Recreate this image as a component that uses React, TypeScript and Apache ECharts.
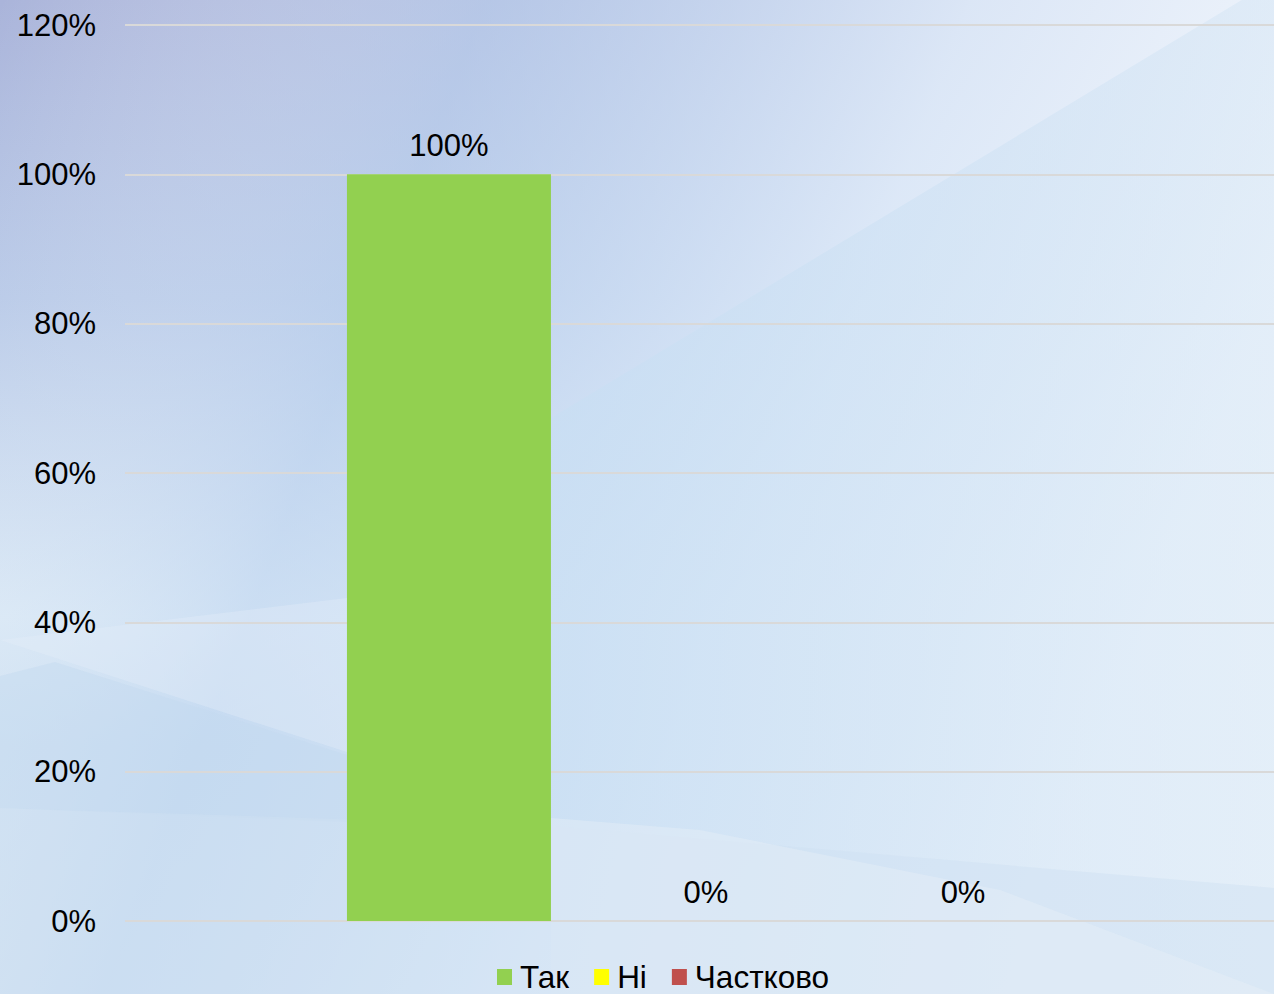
import React, { useEffect, useRef } from "react";
import * as echarts from "echarts";

const categories = ["Питання"];
const seriesNames = ["Так", "Ні", "Частково"];
const seriesValues = [[100], [0], [0]];
const seriesColors = ["#92d050", "#ffff00", "#c0504d"];
const yTicks = { min: 0, max: 120, interval: 20 };

export default function App() {
  const ref = useRef<HTMLDivElement>(null);
  useEffect(() => {
    if (!ref.current) return;
    const chart = echarts.init(ref.current, null, { renderer: "svg" });
    const font = "Liberation Sans, Arial, sans-serif";
    const bg = (points: number[][], fill: any, z = -19) => ({
      type: "polygon",
      z,
      silent: true,
      shape: { points },
      style: { fill },
    });
    const option = {
      animation: false,
      graphic: [
        {
          type: "rect",
          z: -21,
          silent: true,
          shape: { x: 0, y: 0, width: 1274, height: 994 },
          style: {
            fill: new echarts.graphic.LinearGradient(0, 0, 0, 1, [
              { offset: 0, color: "#aab4da" },
              { offset: 0.3, color: "#b4c6e6" },
              { offset: 0.62, color: "#d9e8f5" },
              { offset: 0.75, color: "#cde0f1" },
              { offset: 1, color: "#d3e4f2" },
            ]),
          },
        },
        {
          type: "rect",
          z: -20,
          silent: true,
          shape: { x: 0, y: 0, width: 1274, height: 994 },
          style: {
            fill: new echarts.graphic.LinearGradient(0, 0, 1, 0.3, [
              { offset: 0, color: "rgba(255,255,255,0)" },
              { offset: 0.35, color: "rgba(192,214,241,0.55)" },
              { offset: 0.7, color: "rgba(228,239,251,0.85)" },
              { offset: 1, color: "rgba(246,250,254,0.95)" },
            ]),
          },
        },
        bg(
          [[551, 418], [1250, -5], [1274, -5], [1274, 994], [551, 994]],
          new echarts.graphic.LinearGradient(0, 0, 1, 0, [
            { offset: 0, color: "rgba(200,222,243,0.75)" },
            { offset: 1, color: "rgba(214,230,245,0.55)" },
          ])
        ),
        bg([[0, 640], [347, 598], [347, 752]], "rgba(228,239,248,0.35)"),
        bg([[0, 676], [55, 662], [347, 755], [347, 822], [0, 808]], "rgba(196,218,239,0.45)"),
        bg([[0, 808], [551, 826], [1274, 888], [1274, 994], [0, 994]], "rgba(206,225,242,0.45)"),
        bg([[551, 818], [700, 830], [1000, 890], [1274, 994], [551, 994]], "rgba(232,240,248,0.4)", -18),
      ],
      grid: [
        { left: 125, right: 0, top: 25, bottom: 73, containLabel: false },
        { left: 138, right: 0, top: 25, bottom: 73, containLabel: false },
      ],
      legend: {
        left: 497,
        top: 961,
        padding: 0,
        itemWidth: 15,
        itemHeight: 16,
        itemGap: 25,
        icon: "rect",
        textStyle: { fontFamily: font, fontSize: 31.5, color: "#000", padding: [0, 0, 0, 3] },
        data: seriesNames,
      },
      xAxis: [0, 1].map((i) => ({
        type: "category",
        gridIndex: i,
        data: categories,
        axisLine: { show: false },
        axisTick: { show: false },
        axisLabel: { show: false },
        splitLine: { show: false },
      })),
      yAxis: [
        {
          type: "value",
          gridIndex: 0,
          min: yTicks.min,
          max: yTicks.max,
          interval: yTicks.interval,
          axisLine: { show: false },
          axisTick: { show: false },
          axisLabel: {
            formatter: "{value}%",
            fontFamily: font,
            fontSize: 31,
            color: "#000",
            margin: 29,
          },
          splitLine: { lineStyle: { color: "#d9d9d9", width: 2 } },
        },
        {
          type: "value",
          gridIndex: 1,
          min: yTicks.min,
          max: yTicks.max,
          interval: yTicks.interval,
          show: false,
          splitLine: { show: false },
        },
      ],
      series: seriesNames.map((name, i) => ({
        name,
        type: "bar",
        xAxisIndex: 1,
        yAxisIndex: 1,
        data: seriesValues[i],
        barWidth: 204,
        barGap: "26%",
        itemStyle: { color: seriesColors[i] },
        label: {
          show: true,
          position: "top",
          distance: 13,
          formatter: "{c}%",
          fontFamily: font,
          fontSize: 31,
          color: "#000",
        },
      })),
    };
    chart.setOption(option as any);
    return () => chart.dispose();
  }, []);
  return (
    <div
      ref={ref}
      style={{ position: "absolute", left: 0, top: 0, width: 1274, height: 994 }}
    />
  );
}
